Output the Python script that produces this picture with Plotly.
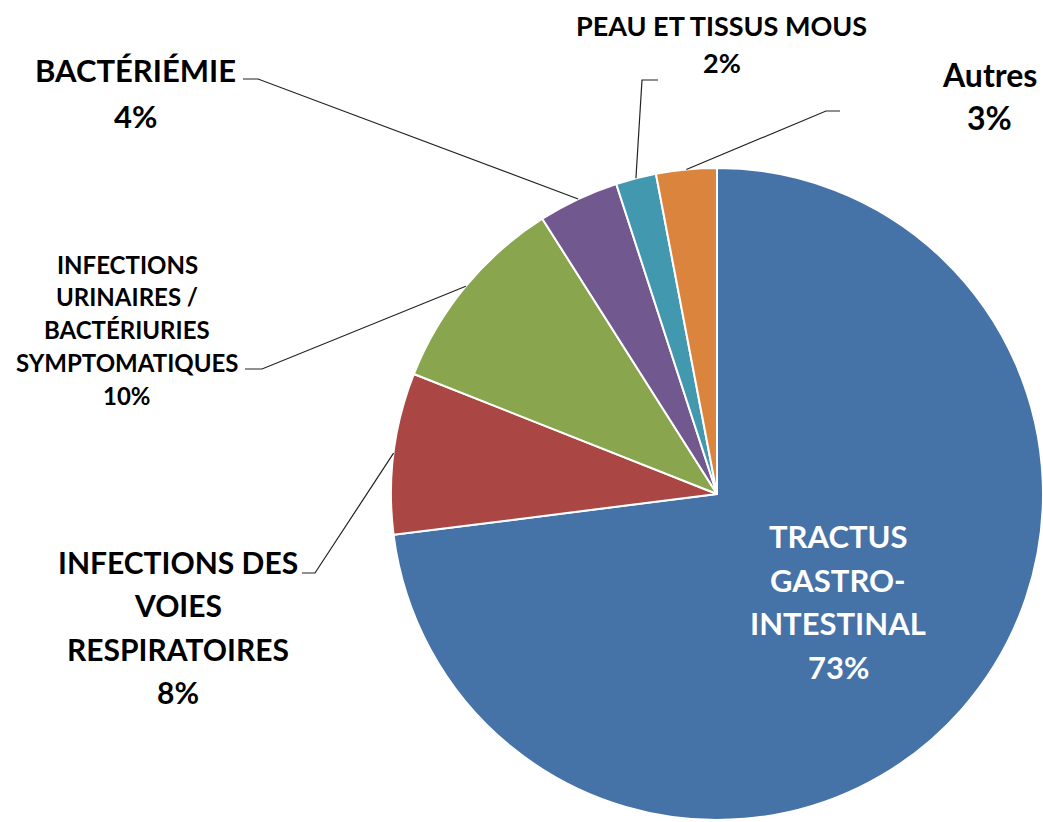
import math
import plotly.graph_objects as go

# Data (clockwise from 12 o'clock)
labels = ['TRACTUS<br>GASTRO-<br>INTESTINAL',
          'INFECTIONS DES<br>VOIES<br>RESPIRATOIRES',
          'INFECTIONS<br>URINAIRES /<br>BACTÉRIURIES<br>SYMPTOMATIQUES',
          'BACTÉRIÉMIE',
          'PEAU ET TISSUS MOUS',
          'Autres']
values = [73, 8, 10, 4, 2, 3]
colors = ['#4572A7', '#AA4643', '#89A54E', '#71588F', '#4198AF', '#DB843D']

W, H = 1043, 822

# pie placement in pixels
PIE_CX, PIE_CY, PIE_R = 717, 494, 326

# label placement in pixels: (centre x, centre y, line spacing, font size, colour)
label_pos = [(838, 601.5, 43.7, 31, 'white'),
             (178, 627, 43.3, 30, 'black'),
             (127, 329.6, 32.7, 24, 'black'),
             (135, 93, 46, 31, 'black'),
             (721.5, 43.5, 37, 27, 'black'),
             (989, 96, 44, 32, 'black')]

# leader line elbow and end near the label (pixels), None for inside label
leader_pts = [None,
              ((315, 573), (302, 573)),
              ((262, 369), (245, 369)),
              ((258, 79), (243, 79)),
              ((642, 80), (658, 80)),
              ((826, 111), (840, 111))]


def px_x(x):
    return x / W


def px_y(y):
    return 1 - y / H


fig = go.Figure(go.Pie(
    labels=labels,
    values=values,
    sort=False,
    direction='clockwise',
    rotation=0,
    textinfo='none',
    hoverinfo='label+percent',
    marker=dict(colors=colors, line=dict(color='white', width=2)),
    domain=dict(x=[px_x(PIE_CX - PIE_R), px_x(PIE_CX + PIE_R)],
                y=[px_y(PIE_CY + PIE_R), px_y(PIE_CY - PIE_R)]),
    showlegend=False
))

total = sum(values)
annotations = []
shapes = []
cum = 0
for i, v in enumerate(values):
    mid = (cum + v / 2) / total * 2 * math.pi
    cum += v
    x, y, gap, size, col = label_pos[i]
    # one annotation per text line so the line spacing can follow the reference
    lines = labels[i].split('<br>') + [str(round(v / total * 100)) + '%']
    for k, line in enumerate(lines):
        ly = y + (k - (len(lines) - 1) / 2) * gap
        annotations.append(dict(
            x=px_x(x), y=px_y(ly), xref='paper', yref='paper',
            text=line, showarrow=False, xanchor='center', yanchor='middle',
            font=dict(family='Lato', size=size, color=col, weight='bold')
        ))
    if leader_pts[i] is None:
        continue
    # point on the pie edge at the middle of the slice
    ex = PIE_CX + PIE_R * math.sin(mid)
    ey = PIE_CY - PIE_R * math.cos(mid)
    (bx, by), (tx, ty) = leader_pts[i]
    path = 'M {} {} L {} {} L {} {}'.format(
        px_x(ex), px_y(ey), px_x(bx), px_y(by), px_x(tx), px_y(ty))
    shapes.append(dict(type='path', xref='paper', yref='paper', path=path,
                       line=dict(color='#222222', width=1.2)))

fig.update_layout(
    width=W, height=H,
    margin=dict(l=0, r=0, t=0, b=0),
    paper_bgcolor='white',
    plot_bgcolor='white',
    annotations=annotations,
    shapes=shapes
)

# drop the default page margin so the figure fills the window exactly
fig.write_html('out.html', config={'displayModeBar': False},
               post_script="document.body.style.margin='0';"
                           "document.body.style.overflow='hidden';")
